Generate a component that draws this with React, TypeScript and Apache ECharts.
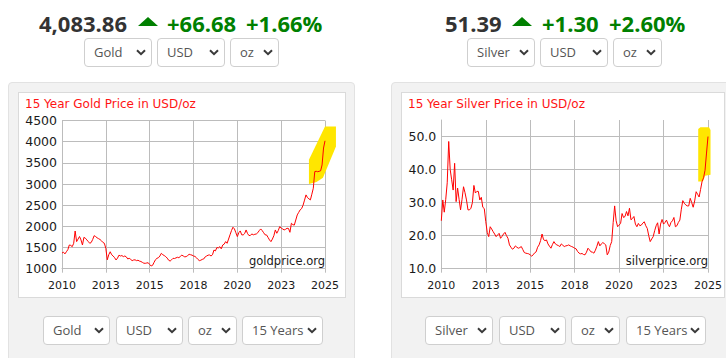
import React, { useEffect, useRef } from "react";
import * as echarts from "echarts";

// Monthly values, first point = October 2010, last = October 2025
const goldValues = [
  1370, 1390, 1350, 1400, 1450, 1560, 1550, 1520, 1600, 1890, 1640, 1700,
  1760, 1680, 1560, 1740, 1720, 1680, 1640, 1600, 1620, 1690, 1780, 1760,
  1730, 1710, 1690, 1660, 1620, 1600, 1480, 1210, 1330, 1400, 1330, 1300,
  1260, 1206, 1250, 1320, 1300, 1310, 1285, 1300, 1280, 1230, 1245, 1220,
  1190, 1206, 1210, 1190, 1200, 1180, 1170, 1150, 1130, 1127, 1135, 1140,
  1100, 1064, 1080, 1150, 1213, 1245, 1260, 1300, 1364, 1330, 1310, 1285,
  1250, 1200, 1180, 1210, 1245, 1240, 1255, 1270, 1260, 1290, 1320, 1300,
  1280, 1285, 1310, 1340, 1330, 1320, 1300, 1290, 1260, 1220, 1190, 1200,
  1220, 1230, 1280, 1300, 1320, 1324, 1300, 1330, 1440, 1420, 1500, 1490,
  1520, 1470, 1560, 1580, 1640, 1600, 1700, 1800, 1900, 1979, 1940, 1850,
  1758, 1850, 1892, 1800, 1797, 1830, 1915, 1830, 1781, 1790, 1820, 1800,
  1813, 1820, 1850, 1900, 1939, 1900, 1850, 1800, 1797, 1740, 1680, 1639,
  1700, 1780, 1915, 1837, 1900, 1994, 1960, 1940, 1915, 1930, 1955, 1950,
  1860, 2074, 2040, 2030, 2150, 2270, 2330, 2390, 2420, 2500, 2620, 2743,
  2680, 2650, 2625, 2760, 2900, 3294, 3300, 3290, 3300, 3311, 3450, 3850,
  4020,
];

const silverValues = [
  24.5, 30.8, 27.1, 31.0, 36.0, 48.5, 40.0, 36.9, 33.8, 41.9, 30.3, 34.4,
  31.0, 27.8, 31.0, 34.8, 33.0, 30.8, 27.8, 27.8, 28.3, 30.0, 35.2, 32.9,
  33.4, 33.4, 30.8, 31.6, 28.6, 28.2, 24.3, 21.0, 19.7, 22.7, 22.0, 21.2,
  20.5, 19.7, 20.2, 20.7, 19.2, 19.8, 20.5, 21.0, 20.0, 19.2, 17.2, 16.5,
  15.9, 16.2, 16.9, 16.5, 16.2, 16.4, 16.7, 15.8, 14.9, 14.7, 14.6, 14.5,
  14.2, 13.8, 14.2, 14.8, 15.1, 16.5, 17.2, 18.5, 20.5, 18.8, 18.5, 18.7,
  17.5, 16.8, 16.2, 17.3, 18.2, 17.5, 17.2, 17.0, 16.7, 17.5, 17.1, 16.7,
  16.9, 17.0, 17.2, 16.9, 16.7, 16.5, 16.2, 16.0, 15.2, 14.7, 14.5, 14.6,
  14.3, 14.2, 15.0, 16.2, 15.7, 15.1, 15.0, 14.7, 15.6, 16.8, 18.2, 16.9,
  17.5, 17.9, 17.6, 17.2, 14.2, 15.0, 17.0, 18.2, 24.0, 29.0, 24.5, 22.7,
  23.2, 23.7, 26.7, 25.5, 25.8, 27.3, 26.0, 28.3, 24.8, 25.2, 25.8, 23.5,
  22.7, 23.7, 23.0, 23.2, 23.8, 24.2, 23.0, 22.2, 20.0, 18.2, 19.0, 19.7,
  21.5, 23.0, 23.9, 20.5, 23.5, 24.9, 23.5, 24.0, 24.7, 23.5, 22.7, 24.0,
  24.5, 25.5, 22.7, 23.0, 24.0, 24.7, 28.0, 30.6, 29.8, 29.3, 29.0, 29.0,
  31.3, 30.0, 28.6, 30.5, 33.3, 32.5, 31.7, 34.0, 36.4, 37.5, 39.8, 45.0,
  50.0,
];

const xTickLabels = ["2010", "2013", "2015", "2018", "2020", "2023", "2025"];
const monthsPerTick = 30;

// highlighter marks, [month index, price]
const goldHighlight = [
  [169, 3003], [169, 3571], [180, 4358], [187.5, 4358], [187.5, 3885], [178.6, 3145], [174.2, 3050],
];
const silverHighlight = [
  [173.4, 36.4], [173.4, 52.3], [174.9, 52.8], [180.7, 52.8], [181.7, 52.0], [181.7, 38.4], [178, 38.1], [176.6, 36.4],
];

const gridColor = "#bcbcbc";
const chartFont = "DejaVu Sans";

type ChartProps = {
  left: number; top: number; width: number; height: number;
  title: string; watermark: string; values: number[];
  yMin: number; yMax: number; yInterval: number; yDecimals: number;
  grid: { left: number; right: number; top: number; bottom: number };
  highlight: number[][];
  hideTopLine: boolean;
};

function PriceChart(p: ChartProps) {
  const ref = useRef<HTMLDivElement>(null);
  useEffect(() => {
    if (!ref.current) return;
    const chart = echarts.init(ref.current, undefined, { renderer: "svg" });
    const lineCount = Math.ceil((p.yMax - p.yMin) / p.yInterval) + 1;
    const splitColors: string[] = [];
    for (let i = 0; i < lineCount; i++) splitColors.push(gridColor);
    if (p.hideTopLine) splitColors[lineCount - 1] = "rgba(0,0,0,0)";
    chart.setOption({
      animation: false,
      grid: { ...p.grid, containLabel: false, outerBoundsMode: "none" },
      graphic: [
        {
          type: "text", x: 7, y: 12,
          style: { text: p.title, fill: "#ff1414", font: `12px "${chartFont}"`, verticalAlign: "middle", align: "left" },
        },
        {
          type: "text", x: p.width - p.grid.right, y: p.height - p.grid.bottom - 2,
          z: 10,
          style: { text: p.watermark, fill: "#1a1a1a", font: `11.5px "${chartFont}"`, verticalAlign: "bottom", align: "right" },
        },
      ],
      xAxis: {
        type: "value", min: 0, max: (xTickLabels.length - 1) * monthsPerTick, interval: monthsPerTick,
        axisLine: { show: true, lineStyle: { color: gridColor, width: 1 } },
        axisTick: { show: true, length: 4, lineStyle: { color: gridColor } },
        splitLine: { show: true, lineStyle: { color: gridColor, width: 1 } },
        axisLabel: {
          fontSize: 11, fontFamily: chartFont, color: "#1a1a1a", margin: 11,
          formatter: (v: number) => xTickLabels[Math.round(v / monthsPerTick)] ?? "",
        },
      },
      yAxis: {
        type: "value", min: p.yMin, max: p.yMax, interval: p.yInterval,
        axisLine: { show: true, lineStyle: { color: gridColor, width: 1 } },
        axisTick: { show: false },
        splitLine: { show: true, lineStyle: { color: splitColors, width: 1 } },
        axisLabel: {
          fontSize: 12.5, fontFamily: chartFont, color: "#1a1a1a", margin: 5,
          showMaxLabel: !p.hideTopLine,
          formatter: (v: number) => v.toFixed(p.yDecimals),
        },
      },
      series: [
        {
          type: "custom", silent: true, clip: false, z: 1,
          data: [[0, p.yMin]],
          renderItem: (_params: any, api: any) => ({
            type: "polygon",
            shape: { points: p.highlight.map((pt) => api.coord(pt)) },
            style: { fill: "#ffe600" },
          }),
        },
        {
          type: "line", z: 3, symbol: "none", silent: true,
          data: p.values.map((v, i) => [i, v]),
          lineStyle: { color: "#ff0000", width: 1 },
        },
      ],
    });
    return () => chart.dispose();
  }, []);
  return (
    <div
      ref={ref}
      style={{ position: "absolute", left: p.left, top: p.top, width: p.width, height: p.height }}
    />
  );
}

function Select(props: { left: number; top: number; width: number; height: number; label: string }) {
  return (
    <div
      style={{
        position: "absolute", left: props.left, top: props.top, width: props.width, height: props.height,
        boxSizing: "border-box", border: "1px solid #cfcfcf", borderRadius: 4, background: "#fff",
        display: "flex", alignItems: "center", paddingLeft: 9,
        fontFamily: "'Open Sans'", fontSize: 13, color: "#555", lineHeight: "13px",
      }}
    >
      {props.label}
      <svg
        width="10" height="7" viewBox="0 0 10 7"
        style={{ position: "absolute", right: 5, top: (props.height - 2) / 2 - 3.5 }}
      >
        <polyline points="1,1.2 5,5.2 9,1.2" fill="none" stroke="#3a3a3a" strokeWidth="2" />
      </svg>
    </div>
  );
}

function Header(props: {
  price: string; change: string; pct: string;
  priceX: number; triX: number; changeX: number; pctX: number;
}) {
  const t: React.CSSProperties = {
    position: "absolute", top: 12, fontFamily: "'Open Sans'", fontWeight: 700, fontSize: 22,
    lineHeight: "22px", whiteSpace: "nowrap",
  };
  return (
    <>
      <div style={{ ...t, left: props.priceX, color: "#333" }}>{props.price}</div>
      <div
        style={{
          position: "absolute", left: props.triX, top: 17, width: 20, height: 9,
          background: "#008000", clipPath: "polygon(50% 0, 100% 100%, 0 100%)",
        }}
      />
      <div style={{ ...t, left: props.changeX, color: "#008000" }}>{props.change}</div>
      <div style={{ ...t, left: props.pctX, color: "#008000" }}>{props.pct}</div>
    </>
  );
}

export default function App() {
  return (
    <div style={{ position: "absolute", left: 0, top: 0, width: 726, height: 358, overflow: "hidden", background: "#fff" }}>
      <Header price="4,083.86" change="+66.68" pct="+1.66%" priceX={39} triX={138} changeX={167} pctX={246} />
      <Select left={84} top={38} width={68} height={29} label="Gold" />
      <Select left={157} top={38} width={68} height={29} label="USD" />
      <Select left={230} top={38} width={49} height={29} label="oz" />

      <Header price="51.39" change="+1.30" pct="+2.60%" priceX={445} triX={512} changeX={542} pctX={609} />
      <Select left={467} top={38} width={68} height={29} label="Silver" />
      <Select left={540} top={38} width={68} height={29} label="USD" />
      <Select left={613} top={38} width={49} height={29} label="oz" />

      {/* panels */}
      <div style={{ position: "absolute", left: 8, top: 82, width: 347, height: 320, boxSizing: "border-box", background: "#f2f2f2", border: "1px solid #e2e2e2", borderRadius: 4 }} />
      <div style={{ position: "absolute", left: 391, top: 82, width: 360, height: 320, boxSizing: "border-box", background: "#f2f2f2", border: "1px solid #e2e2e2", borderRadius: 4 }} />
      <div style={{ position: "absolute", left: 18, top: 92, width: 328, height: 206, boxSizing: "border-box", background: "#fff", border: "1px solid #dadada" }} />
      <div style={{ position: "absolute", left: 401, top: 92, width: 324, height: 206, boxSizing: "border-box", background: "#fff", border: "1px solid #dadada" }} />

      <PriceChart
        left={18} top={92} width={328} height={206}
        title="15 Year Gold Price in USD/oz" watermark="goldprice.org" values={goldValues}
        yMin={1000} yMax={4500} yInterval={500} yDecimals={0}
        grid={{ left: 44, right: 21, top: 28.5, bottom: 29.3 }}
        highlight={goldHighlight} hideTopLine={false}
      />
      <PriceChart
        left={401} top={92} width={324} height={206}
        title="15 Year Silver Price in USD/oz" watermark="silverprice.org" values={silverValues}
        yMin={10} yMax={55} yInterval={10} yDecimals={1}
        grid={{ left: 40.3, right: 17, top: 28, bottom: 29.3 }}
        highlight={silverHighlight} hideTopLine={true}
      />

      <Select left={43} top={316} width={67} height={29} label="Gold" />
      <Select left={116} top={316} width={67} height={29} label="USD" />
      <Select left={188} top={316} width={49} height={29} label="oz" />
      <Select left={242} top={316} width={81} height={29} label="15 Years" />

      <Select left={425} top={316} width={68} height={29} label="Silver" />
      <Select left={499} top={316} width={67} height={29} label="USD" />
      <Select left={571} top={316} width={49} height={29} label="oz" />
      <Select left={626} top={316} width={80} height={29} label="15 Years" />
    </div>
  );
}
